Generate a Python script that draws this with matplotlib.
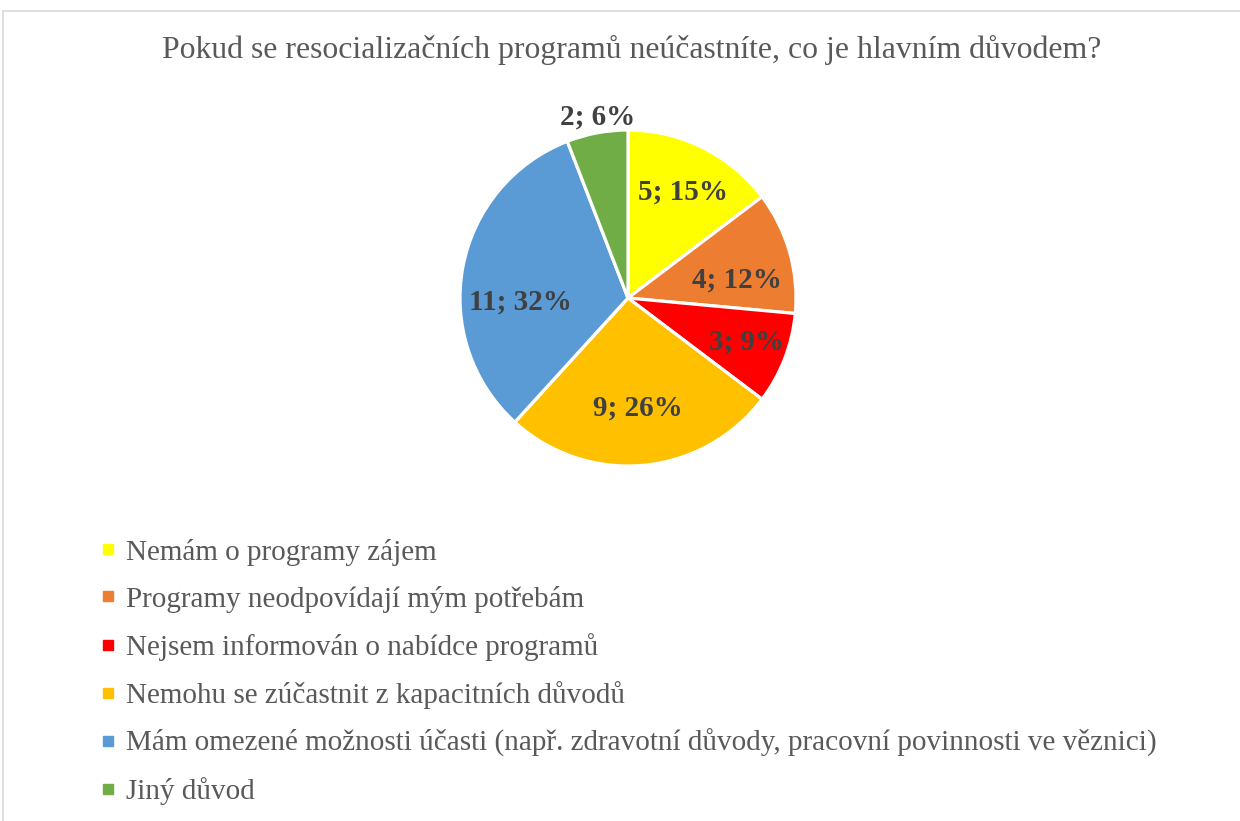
# koláčový graf - důvody neúčasti na resocializačních programech
import matplotlib.pyplot as plt
from matplotlib.lines import Line2D
from matplotlib.patches import Rectangle
import numpy as np

plt.rcParams['font.family'] = ['Liberation Serif', 'DejaVu Serif']

title = 'Pokud se resocializačních programů neúčastníte, co je hlavním důvodem?'
categories = ['Nemám o programy zájem',
              'Programy neodpovídají mým potřebám',
              'Nejsem informován o nabídce programů',
              'Nemohu se zúčastnit z kapacitních důvodů',
              'Mám omezené možnosti účasti (např. zdravotní důvody, pracovní povinnosti ve věznici)',
              'Jiný důvod']
counts = [5, 4, 3, 9, 11, 2]
colors = ['#FFFF00', '#ED7D31', '#FF0000', '#FFC000', '#5B9BD5', '#70AD47']
# umístění popisků: vzdálenost od středu (podíl poloměru) a posun úhlu ve stupních
label_dist = [0.71, 0.66, 0.755, 0.655, 0.64, 1.09]
label_shift = [-1, -6.5, 1, 0, 12.5, -1]

W, H = 1240, 821
fig = plt.figure(figsize=(W / 100, H / 100), dpi=100)

# rámeček grafu
fig.patches.append(Rectangle((3 / W, -0.1), 1.2, (H - 11) / H + 0.1,
                             transform=fig.transFigure, fill=False,
                             edgecolor='#D9D9D9', lw=1.2))

fig.text(632 / W, 1 - 50 / H, title, ha='center', va='center',
         fontsize=22.9, color='#595959')

cx, cy, r = 628, 298, 168
ax = fig.add_axes([(cx - r) / W, (H - cy - r) / H, 2 * r / W, 2 * r / H])
wedges, _ = ax.pie(counts, colors=colors, startangle=90, counterclock=False,
                   wedgeprops=dict(edgecolor='white', linewidth=2.3))
ax.set_aspect('equal')
ax.set_xlim(-1, 1)
ax.set_ylim(-1, 1)

total = sum(counts)
for w, n, d, s in zip(wedges, counts, label_dist, label_shift):
    ang = np.deg2rad((w.theta1 + w.theta2) / 2 + s)
    ax.text(d * np.cos(ang), d * np.sin(ang), f'{n}; {round(100 * n / total)}%',
            ha='center', va='center', fontsize=21, fontweight='bold',
            color='#404040', clip_on=False)

handles = [Line2D([], [], marker='s', linestyle='none', markersize=6.8,
                  markerfacecolor=c, markeredgecolor=c) for c in colors]
fig.legend(handles, categories, loc='upper left',
           bbox_to_anchor=(85 / W, 1 - 524 / H), frameon=False,
           fontsize=21, labelcolor='#595959', handlelength=0.6,
           handletextpad=0.3, labelspacing=0.69, borderpad=0)

plt.savefig('out.png', dpi=100)
